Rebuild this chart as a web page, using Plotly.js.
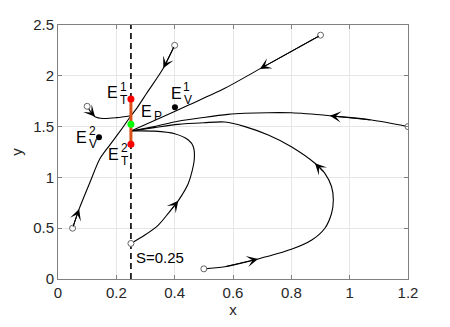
<!DOCTYPE html>
<html>
<head>
<meta charset="utf-8">
<script src="https://cdn.plot.ly/plotly-3.0.1.min.js"></script>
<style>html,body{margin:0;padding:0;background:#fff;}#chart{width:450px;height:327px;}</style>
</head>
<body>
<div id="chart"></div>
<script>
// ---- data ----
const sLine = 0.25;
const yRange = [0, 2.5];
const xRange = [0, 1.2];

const curveA_x = [0.05, 0.0725, 0.11, 0.144, 0.178, 0.213, 0.25];
const curveA_y = [0.50, 0.69, 0.955, 1.185, 1.32, 1.455, 1.607];

const curveB_x = [0.40, 0.361, 0.304, 0.27, 0.25];
const curveB_y = [2.30, 2.074, 1.828, 1.68, 1.607];

const curveC_x = [0.10, 0.112, 0.127, 0.155, 0.201, 0.25];
const curveC_y = [1.70, 1.645, 1.597, 1.58, 1.588, 1.607];

const curveD_x = [0.90, 0.692, 0.572, 0.45, 0.35, 0.25];
const curveD_y = [2.40, 2.068, 1.877, 1.715, 1.585, 1.457];

const curveE_x = [1.20, 1.075, 0.932, 0.80, 0.72, 0.641, 0.583, 0.50, 0.411, 0.33, 0.25];
const curveE_y = [1.50, 1.565, 1.607, 1.636, 1.637, 1.631, 1.62, 1.59, 1.552, 1.50, 1.457];

const curveF_x = [0.50, 0.572, 0.686, 0.80, 0.87, 0.915, 0.938, 0.944, 0.938, 0.915, 0.881, 0.80, 0.721, 0.641, 0.572, 0.50, 0.411, 0.33, 0.25];
const curveF_y = [0.10, 0.121, 0.197, 0.292, 0.384, 0.50, 0.647, 0.778, 0.908, 1.04, 1.139, 1.302, 1.417, 1.50, 1.545, 1.538, 1.522, 1.49, 1.457];

const curveG_x = [0.25, 0.298, 0.344, 0.378, 0.4125, 0.447, 0.467, 0.464, 0.447, 0.40, 0.33, 0.25];
const curveG_y = [0.35, 0.433, 0.531, 0.646, 0.771, 0.942, 1.171, 1.302, 1.368, 1.43, 1.455, 1.457];

// arrows: [curve name, index of arrow tip]
const arrowCurve = ['A', 'B', 'C', 'D', 'E', 'F', 'F', 'G'];
const arrowIndex = [1, 1, 2, 1, 2, 2, 10, 4];

// equilibria
const eqT_x = [0.25, 0.25];
const eqT_y = [1.772, 1.326];
const eqP_x = [0.25];
const eqP_y = [1.523];
const eqV_x = [0.401, 0.1406];
const eqV_y = [1.69, 1.395];

// labels
const labelBase = ['E', 'E', 'E', 'E', 'E'];
const labelSup = ['1', '1', '', '2', '2'];
const labelSub = ['T', 'V', 'P', 'V', 'T'];
const sText = 'S=0.25';

// ---- drawing ----
const curves = {A: [curveA_x, curveA_y], B: [curveB_x, curveB_y], C: [curveC_x, curveC_y],
  D: [curveD_x, curveD_y], E: [curveE_x, curveE_y], F: [curveF_x, curveF_y], G: [curveG_x, curveG_y]};

const traces = [];
traces.push({x: [sLine, sLine], y: yRange, mode: 'lines', line: {color: '#000', width: 1.6, dash: '6px,4px'}, hoverinfo: 'skip'});
Object.keys(curves).forEach(k => {
  traces.push({x: curves[k][0], y: curves[k][1], mode: 'lines', line: {color: '#000', width: 1.1, shape: 'spline', smoothing: 0.8}, hoverinfo: 'skip'});
});
// start points
traces.push({x: Object.keys(curves).map(k => curves[k][0][0]), y: Object.keys(curves).map(k => curves[k][1][0]),
  mode: 'markers', marker: {symbol: 'circle', size: 6, color: '#fff', line: {color: '#666', width: 1}}, hoverinfo: 'skip'});
// sliding segment
traces.push({x: eqT_x, y: eqT_y, mode: 'lines', line: {color: '#D95319', width: 3}, hoverinfo: 'skip'});
traces.push({x: eqT_x, y: eqT_y, mode: 'markers', marker: {size: 7, color: '#ff0000'}, hoverinfo: 'skip'});
traces.push({x: eqP_x, y: eqP_y, mode: 'markers', marker: {size: 7, color: '#00ff00'}, hoverinfo: 'skip'});
traces.push({x: eqV_x, y: eqV_y, mode: 'markers', marker: {size: 6, color: '#000'}, hoverinfo: 'skip'});

const annotations = [];
arrowCurve.forEach((c, i) => {
  const j = arrowIndex[i];
  const cx = curves[c][0], cy = curves[c][1];
  annotations.push({x: cx[j], y: cy[j], ax: cx[j - 1], ay: cy[j - 1], xref: 'x', yref: 'y', axref: 'x', ayref: 'y',
    showarrow: true, arrowhead: 3, arrowsize: 1.9, arrowwidth: 1, arrowcolor: '#000', text: '', standoff: 0});
});

// label placement (E at base position, sup/sub offsets in pixels)
const labelPos = [[0.187, 1.831], [0.405, 1.828], [0.304, 1.651], [0.0815, 1.396], [0.191, 1.227]];
const F = 'Liberation Sans, Arial, sans-serif';
labelBase.forEach((b, i) => {
  const [lx, ly] = labelPos[i];
  annotations.push({x: lx, y: ly, xref: 'x', yref: 'y', text: b, showarrow: false, xanchor: 'center', yanchor: 'middle',
    font: {family: F, size: 16, color: '#000'}});
  if (labelSup[i]) annotations.push({x: lx, y: ly, xref: 'x', yref: 'y', text: labelSup[i], showarrow: false,
    xanchor: 'left', yanchor: 'middle', xshift: 5, yshift: 6, font: {family: F, size: 12, color: '#000'}});
  if (labelSub[i]) {
    const isP = labelSup[i] === '';
    annotations.push({x: lx, y: ly, xref: 'x', yref: 'y', text: labelSub[i], showarrow: false,
      xanchor: 'left', yanchor: 'middle', xshift: isP ? 5 : 5.5, yshift: isP ? -5 : -7, font: {family: F, size: 12, color: '#000'}});
  }
});
annotations.push({x: sLine, y: 0.207, xref: 'x', yref: 'y', text: sText, showarrow: false, xanchor: 'left', yanchor: 'middle',
  xshift: 3, font: {family: F, size: 15, color: '#000'}});

const axisCommon = {showgrid: true, gridcolor: '#e6e6e6', gridwidth: 1, zeroline: false, showline: true, linecolor: '#808080',
  linewidth: 1, mirror: 'ticks', ticks: 'inside', ticklen: 4, tickcolor: '#808080',
  tickfont: {family: F, size: 15, color: '#262626'}};

const layout = {
  width: 450, height: 327, margin: {l: 58, r: 42, t: 25, b: 48}, showlegend: false,
  paper_bgcolor: '#fff', plot_bgcolor: '#fff',
  xaxis: Object.assign({}, axisCommon, {range: xRange, dtick: 0.2, tick0: 0,
    title: {text: 'x', font: {family: F, size: 15, color: '#262626'}, standoff: 4}}),
  yaxis: Object.assign({}, axisCommon, {range: yRange, dtick: 0.5, tick0: 0,
    title: {text: 'y', font: {family: F, size: 15, color: '#262626'}, standoff: 6}}),
  annotations: annotations
};

Plotly.newPlot('chart', traces, layout, {staticPlot: true, displayModeBar: false});
</script>
</body>
</html>
